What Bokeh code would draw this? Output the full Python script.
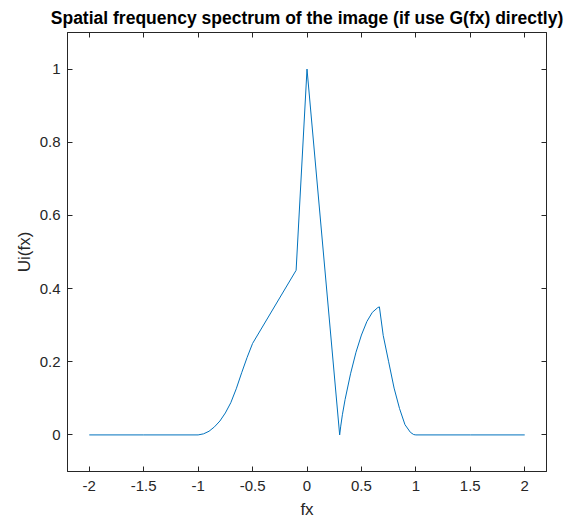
from bokeh.plotting import figure
from bokeh.models import LinearAxis, FixedTicker, Title, Range1d, CustomJSTickFormatter
from bokeh.embed import file_html
from bokeh.resources import INLINE

# data
fx = [-2.0, -1.5, -1.0, -0.95, -0.9, -0.85, -0.8, -0.75, -0.7, -0.65, -0.6, -0.55, -0.5,
      -0.1, 0.0, 0.3, 0.31, 0.325, 0.35, 0.4, 0.45, 0.5, 0.55, 0.6, 0.65, 0.665,
      0.7, 0.75, 0.8, 0.85, 0.9, 0.95, 0.98, 1.0, 1.5, 2.0]
ui = [0.0, 0.0, 0.0, 0.003, 0.010, 0.022, 0.038, 0.060, 0.088, 0.126, 0.170, 0.212, 0.25,
      0.45, 1.0, 0.0, 0.024, 0.055, 0.097, 0.167, 0.226, 0.273, 0.310, 0.335, 0.348, 0.35,
      0.272, 0.200, 0.128, 0.072, 0.028, 0.007, 0.001, 0.0, 0.0, 0.0]

x_ticks = [-2, -1.5, -1, -0.5, 0, 0.5, 1, 1.5, 2]
x_labels = ["-2", "-1.5", "-1", "-0.5", "0", "0.5", "1", "1.5", "2"]
y_ticks = [0, 0.2, 0.4, 0.6, 0.8, 1]
y_labels = ["0", "0.2", "0.4", "0.6", "0.8", "1"]

FONT = "Liberation Sans"
DARK = "#262626"

p = figure(width=573, height=523, output_backend="svg", toolbar_location=None,
           x_range=Range1d(-2.2, 2.2), y_range=Range1d(-0.1, 1.1),
           min_border_left=67, min_border_right=27, min_border_top=31, min_border_bottom=52,
           x_axis_label="fx", y_axis_label="Ui(fx)")
p.background_fill_color = "white"
p.border_fill_color = "white"
p.outline_line_color = DARK
p.outline_line_width = 1
p.xgrid.visible = False
p.ygrid.visible = False

p.line(fx, ui, line_color="#0072BD", line_width=1)

def style(ax, ticks, labels):
    ax.ticker = FixedTicker(ticks=ticks)
    ax.major_label_overrides = {t: l for t, l in zip(ticks, labels)}
    ax.major_tick_in = 5
    ax.major_tick_out = 0
    ax.minor_tick_in = 0
    ax.minor_tick_out = 0
    ax.axis_line_color = DARK
    ax.major_tick_line_color = DARK
    ax.major_label_text_color = DARK
    ax.major_label_text_font = FONT
    ax.major_label_text_font_size = "15px"
    ax.axis_label_text_font = FONT
    ax.axis_label_text_font_size = "17px"
    ax.axis_label_text_font_style = "normal"
    ax.axis_label_text_color = DARK

style(p.xaxis[0], x_ticks, x_labels)
style(p.yaxis[0], y_ticks, y_labels)
p.xaxis[0].major_label_standoff = 9
p.yaxis[0].major_label_standoff = 7
p.xaxis[0].axis_label_standoff = 6
p.yaxis[0].axis_label_standoff = 3

def bare(ax, ticks):
    ax.ticker = FixedTicker(ticks=ticks)
    ax.formatter = CustomJSTickFormatter(code="return ''")
    ax.major_tick_in = 5
    ax.major_tick_out = 0
    ax.minor_tick_in = 0
    ax.minor_tick_out = 0
    ax.axis_line_color = DARK
    ax.major_tick_line_color = DARK
    ax.major_label_standoff = 0

top = LinearAxis()
bare(top, x_ticks)
p.add_layout(top, "above")
right = LinearAxis()
bare(right, y_ticks)
p.add_layout(right, "right")

p.add_layout(Title(text="Spatial frequency spectrum of the image (if use G(fx) directly)",
                   align="center", text_font=FONT, text_font_size="17.5px",
                   text_font_style="bold", text_color="black"), "above")

open("out.html", "w").write(file_html(p, INLINE))
